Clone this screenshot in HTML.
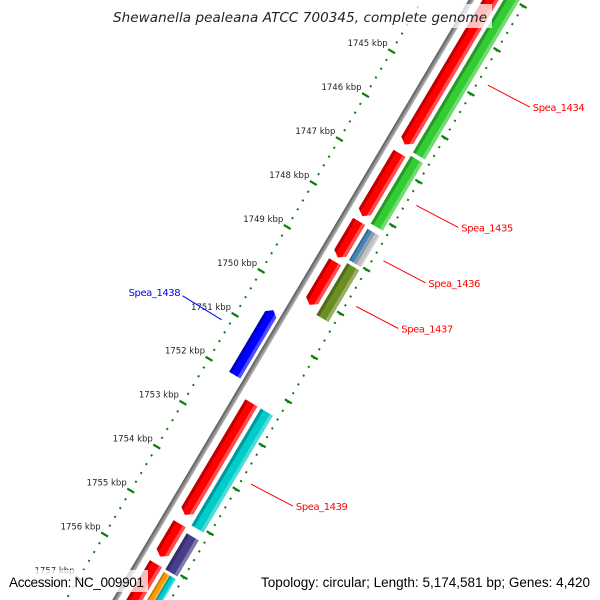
<!DOCTYPE html>
<html><head><meta charset="utf-8"><style>
html,body{margin:0;padding:0;background:#fff;width:600px;height:600px;overflow:hidden;}
svg{display:block;overflow:hidden;}
</style></head><body>
<svg id="map" width="600" height="600" viewBox="0 0 600 600" xmlns="http://www.w3.org/2000/svg">
<defs>
<clipPath id="frame"><rect x="0" y="0" width="600" height="600"/></clipPath>
<linearGradient id="gshade" x1="0" y1="0" x2="1" y2="0">
<stop offset="0" stop-color="#000" stop-opacity="0.25"/><stop offset="0.22" stop-color="#000" stop-opacity="0.25"/>
<stop offset="0.22" stop-color="#000" stop-opacity="0"/><stop offset="0.75" stop-color="#fff" stop-opacity="0"/>
<stop offset="0.75" stop-color="#fff" stop-opacity="0.3"/><stop offset="1" stop-color="#fff" stop-opacity="0.3"/>
</linearGradient>
<linearGradient id="bbshade" x1="0" y1="0" x2="1" y2="0">
<stop offset="0" stop-color="#555"/><stop offset="0.5" stop-color="#888"/><stop offset="1" stop-color="#bbb"/>
</linearGradient>
</defs>
<g clip-path="url(#frame)">
<g id="rot"></g>
</g>
<g id="labels"></g>
<rect x="108" y="4" width="384" height="24" fill="#fff" fill-opacity="0.75"/>
<text x="300" y="22" text-anchor="middle" font-family="DejaVu Sans, sans-serif" font-style="italic" font-size="13.5" fill="#222" textLength="374">Shewanella pealeana ATCC 700345, complete genome</text>
<rect x="5" y="570" width="143" height="22" fill="#fff" fill-opacity="0.75"/>
<text x="9" y="587" font-family="Liberation Sans, sans-serif" font-size="13.5" fill="#000" textLength="135">Accession: NC_009901</text>
<rect x="256" y="570" width="338" height="22" fill="#fff" fill-opacity="0.75"/>
<text x="590" y="587" text-anchor="end" font-family="Liberation Sans, sans-serif" font-size="13.5" fill="#000" textLength="329">Topology: circular; Length: 5,174,581 bp; Genes: 4,420</text>
</svg>
<script>
// data (kbp positions)
const tickKbp = [1745,1746,1747,1748,1749,1750,1751,1752,1753,1754,1755,1756,1757];
const fwdStarts = [1741.95,1746.64,1748.19,1749.11,1752.32,1755.07,1755.98];
const fwdEnds   = [1746.44,1748.07,1749.01,1750.09,1754.87,1755.82,1757.8];
const revNames  = ['g1434','g1435','g1436a','g1436b','g1437','g1439','g1440','g1441a','g1441b'];
const revStarts = [1741.95,1746.57,1748.23,1748.23,1749.01,1752.32,1755.16,1756.04,1756.04];
const revEnds   = [1746.49,1748.11,1748.94,1748.94,1750.19,1754.98,1755.98,1757.8,1757.8];
const revColors = ['#33cc33','#33cc33','#4682b4','#c0c0c0','#6b8e23','#00cccc','#483d8b','#ff9900','#00cccc'];
const revHalf   = [0,0,1,2,0,0,0,1,2];
const innerStart = [1750.54];
const innerEnd   = [1752.02];
const labelNames = ['Spea_1434','Spea_1435','Spea_1436','Spea_1437','Spea_1439'];
const labelKbp   = [1744.61,1747.35,1748.61,1749.65,1753.69];
const innerLabelNames = ['Spea_1438'];
const innerLabelKbp = [1751.22];

const NS='http://www.w3.org/2000/svg';
const ox=472, oy=0, ang=30.7*Math.PI/180;
const ux=-Math.sin(ang), uy=Math.cos(ang), nx=Math.cos(ang), ny=Math.sin(ang);
const PX=51.1;
function yOf(k){return 85+(k-1745)*PX;}
function scr(x,y){return [ox+x*nx+y*ux, oy+x*ny+y*uy];}
const rot=document.getElementById('rot');
rot.setAttribute('transform','translate('+ox+','+oy+') rotate('+(ang*180/Math.PI)+')');
const lab=document.getElementById('labels');
function mk(tag,attrs,parent){const e=document.createElementNS(NS,tag);for(const k in attrs)e.setAttribute(k,attrs[k]);parent.appendChild(e);return e;}

// backbone
let bb=mk('rect',{x:-3,y:-50,width:5,height:780,fill:'url(#bbshade)'},rot);



// dotted lines
for(let k=1742;k<=1758.5;k+=0.2){
  const y=yOf(k);
  let d1=mk('rect',{x:-44,y:y-1,width:2,height:2,fill:'#0a800a'},rot);
  
  
  let d2=mk('rect',{x:46,y:y+1-0.2*PX/2,width:2,height:2,fill:'#0a800a'},rot);
  
  
}
for(let k=1742;k<=1759;k++){
  const y2=yOf(k)-55;
  let t=mk('rect',{x:43,y:y2-1,width:8,height:2.2,fill:'#0a800a'},rot);
  
  
}
tickKbp.forEach(k=>{
  const y=yOf(k);
  let t=mk('rect',{x:-47,y:y-1,width:8,height:2.2,fill:'#0a800a'},rot);
  
  
  const p=scr(-43,y);
  let tx=mk('text',{x:p[0]-4,y:p[1]-5,'text-anchor':'end','font-family':'DejaVu Sans, sans-serif','font-size':'8.5',fill:'#222'},lab);
  tx.textContent=k+' kbp';
  
  
});

function gene(x0,x1,k0,k1,color,tipEnd,tipStart){
  const y0=yOf(k0), y1=yOf(k1), xm=(x0+x1)/2;
  let pts;
  if(tipEnd) pts=[[x0,y0],[x1,y0],[x1,y1-5],[xm,y1],[x0,y1-5]];
  else if(tipStart) pts=[[xm,y0],[x1,y0+5],[x1,y1],[x0,y1],[x0,y0+5]];
  else pts=[[x0,y0],[x1,y0],[x1,y1],[x0,y1]];
  const s=pts.map(p=>p.join(',')).join(' ');
  const g=mk('g',{},rot);
  mk('polygon',{points:s,fill:color},g);
  mk('polygon',{points:s,fill:'url(#gshade)'},g);
  return g;
}
fwdStarts.forEach((s,i)=>{
  const g=gene(9,23,s,fwdEnds[i],'#ff0000',true,false);
  
  
});
revStarts.forEach((s,i)=>{
  let x0=27,x1=41;
  if(revHalf[i]===1){x1=34;} else if(revHalf[i]===2){x0=34;}
  const g=gene(x0,x1,s,revEnds[i],revColors[i],false,false);
  
  
});
innerStart.forEach((s,i)=>{
  const g=gene(-19,-6,s,innerEnd[i],'#0000ff',false,true);
  
  
});

// labels
labelNames.forEach((n,i)=>{
  const y=yOf(labelKbp[i]);
  const a=scr(57,y);
  const b=[a[0]+42,a[1]+22];
  let l=mk('line',{x1:a[0],y1:a[1],x2:b[0],y2:b[1],stroke:'#ff0000','stroke-width':1},lab);
  
  
  let t=mk('text',{x:b[0]+3,y:b[1]+4,'font-family':'DejaVu Sans, sans-serif','font-size':'10',fill:'#ff0000',textLength:'52'},lab);
  t.textContent=n;
  
  
});
innerLabelNames.forEach((n,i)=>{
  const y=yOf(innerLabelKbp[i]);
  const a=scr(-52,y);
  const b=[a[0]-39,a[1]-24];
  let l=mk('line',{x1:a[0],y1:a[1],x2:b[0],y2:b[1],stroke:'#0000ff','stroke-width':1},lab);
  
  
  let t=mk('text',{x:b[0]-2,y:b[1]+0,'text-anchor':'end','font-family':'DejaVu Sans, sans-serif','font-size':'10',fill:'#0000ff',textLength:'52'},lab);
  t.textContent=n;
  
  
});
</script>
</body></html>
